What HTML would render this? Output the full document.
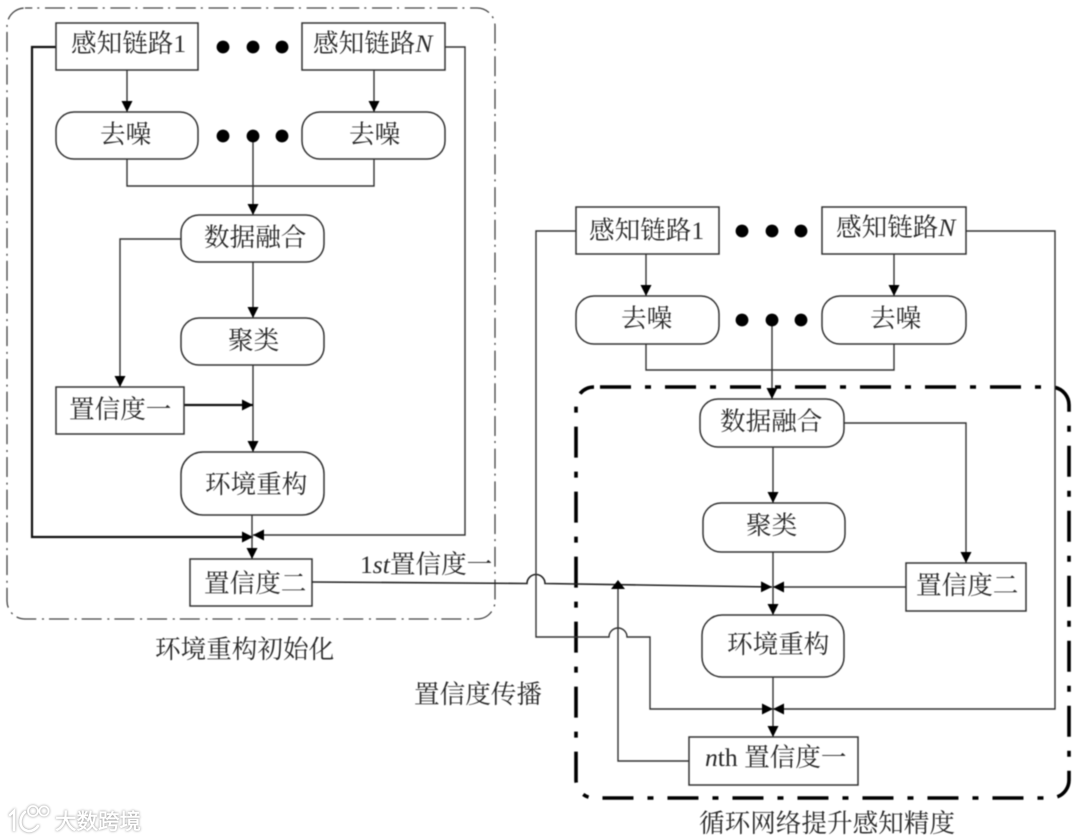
<!DOCTYPE html>
<html><head><meta charset="utf-8"><style>
html,body{margin:0;padding:0;background:#fff}
svg{display:block}
.m{filter:blur(.45px)}
text{font-family:"Liberation Serif","Noto Serif CJK SC",serif;font-size:25.6px;fill:#2a2a2a}
.i{font-style:italic}
.b{fill:#fff;stroke:#333;stroke-width:1.5}
.l{fill:none;stroke:#333;stroke-width:1.4}
.t{fill:none;stroke:#111;stroke-width:2.2}
.d{fill:#000}
.w{font-family:"Liberation Sans","Noto Sans CJK SC",sans-serif;font-size:21.5px;fill:#fff;stroke:#fff;stroke-width:.5}
</style></head><body>
<svg width="1080" height="840" viewBox="0 0 1080 840" xmlns="http://www.w3.org/2000/svg">
<defs>
<marker id="a" markerUnits="userSpaceOnUse" markerWidth="12" markerHeight="12" refX="11" refY="6" orient="auto"><path d="M0 0.5L11 6L0 11.5Z" fill="#000"/></marker>
</defs>
<g class="m">
<!-- Left container -->
<rect x="7" y="8" width="488" height="611" rx="18" fill="none" stroke="#444" stroke-width="1.3" stroke-dasharray="20 5 2 5.7" stroke-dashoffset="12.7"/>

<!-- Left connectors -->
<path class="t" d="M56 47H32V537H253" marker-end="url(#a)"/>
<path class="l" d="M445 47H465V535H253" marker-end="url(#a)"/>
<path class="l" d="M127 70V112" marker-end="url(#a)"/>
<path class="l" d="M374 70V112" marker-end="url(#a)"/>
<path class="l" d="M127 159V186H374V159"/>
<path class="l" d="M253 136V215" marker-end="url(#a)"/>
<path class="l" d="M181 239H120V387" marker-end="url(#a)"/>
<path class="l" d="M253 262V318" marker-end="url(#a)"/>
<path class="l" d="M253 365V452" marker-end="url(#a)"/>
<path class="t" d="M184 405H253" marker-end="url(#a)"/>
<path class="l" d="M252 515V559" marker-end="url(#a)"/>

<!-- Left nodes -->
<rect class="b" x="56" y="23" width="142" height="47"/>
<rect class="b" x="302" y="23" width="143" height="47"/>
<rect class="b" x="56" y="112" width="142" height="47" rx="18"/>
<rect class="b" x="302" y="112" width="143" height="47" rx="18"/>
<rect class="b" x="181" y="215" width="143" height="47" rx="18"/>
<rect class="b" x="181" y="318" width="143" height="47" rx="18"/>
<rect class="b" x="56" y="387" width="128" height="47"/>
<rect class="b" x="181" y="452" width="143" height="63" rx="22"/>
<rect class="b" x="190" y="559" width="122" height="47"/>
<circle class="d" cx="223" cy="47" r="6.4"/><circle class="d" cx="253" cy="47" r="6.4"/><circle class="d" cx="282" cy="47" r="6.4"/>
<circle class="d" cx="223" cy="136" r="6.4"/><circle class="d" cx="253" cy="136" r="6.4"/><circle class="d" cx="282" cy="136" r="6.4"/>

<text x="71" y="52">感知链路1</text>
<text x="313" y="52">感知链路<tspan class="i">N</tspan></text>
<text x="100" y="143">去噪</text>
<text x="349" y="143">去噪</text>
<text x="204" y="246">数据融合</text>
<text x="228" y="349">聚类</text>
<text x="69" y="418">置信度一</text>
<text x="205" y="493">环境重构</text>
<text x="204" y="592">置信度二</text>
<text x="360" y="573"><tspan>1</tspan><tspan class="i">st</tspan>置信度一</text>
<text x="155" y="658">环境重构初始化</text>
<text x="414" y="703">置信度传播</text>

<!-- Right container -->
<rect x="576" y="387" width="493" height="411" rx="18" fill="none" stroke="#000" stroke-width="3.6" stroke-dasharray="31 14 6 14" stroke-dashoffset="59"/>

<!-- Propagation line -->
<path class="l" style="stroke:#222;stroke-width:1.6" d="M312 582L527 583.5A9 9 0 0 1 545 583.5L772 587" marker-end="url(#a)"/>

<!-- Right connectors -->
<path class="l" d="M576 231H536V637H609A9 9 0 0 1 627 637H650V709H773" marker-end="url(#a)"/>
<path class="l" d="M966 231H1055V709H773" marker-end="url(#a)"/>
<path class="l" d="M646 254V296" marker-end="url(#a)"/>
<path class="l" d="M894 254V296" marker-end="url(#a)"/>
<path class="l" d="M646 344V370H894V344"/>
<path class="l" d="M772 320V399" marker-end="url(#a)"/>
<path class="l" d="M844 423H966V563" marker-end="url(#a)"/>
<path class="l" d="M773 447V503" marker-end="url(#a)"/>
<path class="l" d="M773 552V615" marker-end="url(#a)"/>
<path class="l" d="M906 587H773" marker-end="url(#a)"/>
<path class="l" d="M773 677V737" marker-end="url(#a)"/>
<path class="l" d="M689 761H618V588"/>
<polygon points="618,580 611,589 625,589" fill="#000"/>

<!-- Right nodes -->
<rect class="b" x="576" y="207" width="143" height="47"/>
<rect class="b" x="822" y="207" width="144" height="47"/>
<rect class="b" x="576" y="296" width="143" height="48" rx="18"/>
<rect class="b" x="822" y="296" width="144" height="48" rx="18"/>
<rect class="b" x="700" y="399" width="144" height="48" rx="18"/>
<rect class="b" x="703" y="503" width="142" height="49" rx="18"/>
<rect class="b" x="702" y="615" width="142" height="62" rx="20"/>
<rect class="b" x="906" y="563" width="120" height="48"/>
<rect class="b" x="689" y="737" width="169" height="48"/>
<circle class="d" cx="742" cy="231" r="6.4"/><circle class="d" cx="772" cy="231" r="6.4"/><circle class="d" cx="801" cy="231" r="6.4"/>
<circle class="d" cx="742" cy="320" r="6.4"/><circle class="d" cx="772" cy="320" r="6.4"/><circle class="d" cx="801" cy="320" r="6.4"/>

<text x="589" y="239">感知链路1</text>
<text x="836" y="236">感知链路<tspan class="i">N</tspan></text>
<text x="621" y="327">去噪</text>
<text x="870" y="327">去噪</text>
<text x="720" y="430">数据融合</text>
<text x="746" y="534">聚类</text>
<text x="727" y="653">环境重构</text>
<text x="916" y="594">置信度二</text>
<text x="705" y="766"><tspan class="i">n</tspan>th 置信度一</text>
<text x="699" y="832">循环网络提升感知精度</text>
</g>

<!-- Watermark -->
<g style="filter:drop-shadow(0 0 1.2px #888)">
<g fill="none" stroke="#fff" stroke-linecap="round">
<path stroke-width="2.6" d="M10 815L14 811V830"/>
<path stroke-width="2.6" d="M25 812C19 817 18 829 28 831C32 831.500 36 829 38 826"/>
<circle cx="33" cy="811" r="5" stroke-width="1.8"/>
<circle cx="44" cy="811" r="4.6" stroke-width="1.8"/>
</g>
<text class="w" x="55" y="829">大数跨境</text>
</g>
</svg>
</body></html>
